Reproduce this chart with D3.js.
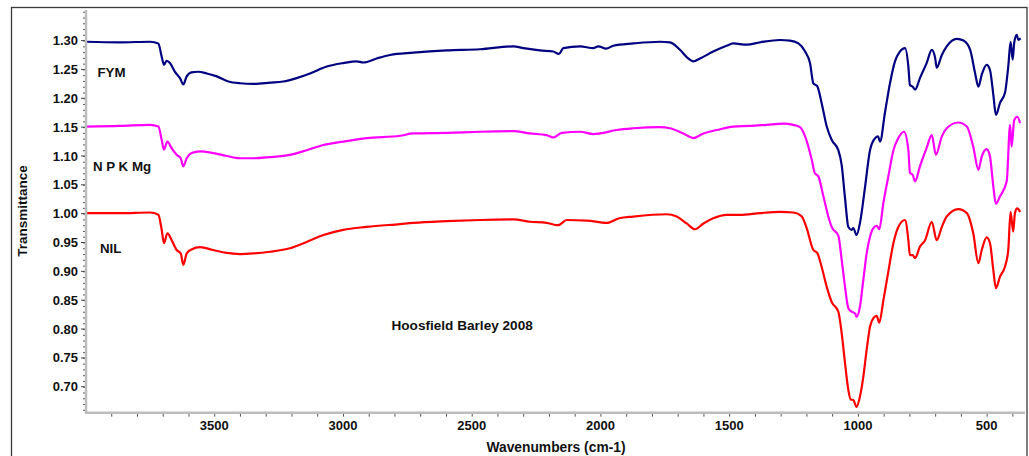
<!DOCTYPE html>
<html>
<head>
<meta charset="utf-8">
<script src="https://cdn.jsdelivr.net/npm/d3@7/dist/d3.min.js"></script>
<style>
  html, body { margin: 0; padding: 0; background: #fff; }
  svg text { font-family: "Liberation Sans", Arial, sans-serif; font-weight: bold; fill: #111; }
</style>
</head>
<body>
<svg id="chart" width="1029" height="456"></svg>
<script>
// FTIR spectra, Hoosfield Barley 2008: [wavenumber (cm-1), transmittance]
const fym = [
  [3998,1.298],[3866,1.297],[3749,1.298],[3717,1.295],[3704,1.272],[3695,1.258],[3685,1.265],
  [3672,1.261],[3653,1.246],[3633,1.235],[3620,1.224],[3607,1.238],[3588,1.245],[3562,1.246],
  [3529,1.243],[3490,1.238],[3445,1.229],[3400,1.226],[3348,1.225],[3283,1.227],[3232,1.229],
  [3180,1.235],[3128,1.243],[3063,1.255],[2999,1.261],[2947,1.264],[2921,1.262],[2869,1.269],
  [2817,1.275],[2727,1.279],[2597,1.283],[2468,1.285],[2338,1.290],[2299,1.287],[2235,1.283],
  [2183,1.281],[2161,1.277],[2144,1.287],[2079,1.290],[2028,1.287],[2008,1.290],[1978,1.286],
  [1950,1.291],[1872,1.295],[1769,1.298],[1730,1.297],[1691,1.284],[1659,1.269],[1639,1.264],
  [1613,1.269],[1562,1.281],[1510,1.291],[1484,1.295],[1432,1.293],[1380,1.297],[1303,1.301],
  [1264,1.300],[1231,1.295],[1205,1.281],[1186,1.261],[1173,1.226],[1158,1.221],[1141,1.192],
  [1121,1.151],[1102,1.128],[1076,1.110],[1063,1.084],[1050,1.027],[1037,0.977],[1024,0.972],
  [1018,0.975],[1005,0.963],[992,0.984],[972,1.047],[953,1.110],[933,1.131],[922,1.134],
  [914,1.125],[895,1.175],[875,1.227],[856,1.264],[837,1.281],[817,1.287],[804,1.255],
  [798,1.223],[787,1.220],[778,1.215],[759,1.235],[733,1.261],[713,1.284],[700,1.270],
  [694,1.253],[674,1.275],[655,1.290],[616,1.303],[590,1.300],[564,1.284],[545,1.244],
  [532,1.220],[519,1.241],[500,1.258],[487,1.249],[474,1.206],[464,1.171],[448,1.192],
  [429,1.209],[416,1.255],[407,1.298],[399,1.267],[393,1.296],[383,1.310],[377,1.301],[368,1.304]
];

const npkMg = [
  [3998,1.151],[3866,1.152],[3749,1.154],[3717,1.151],[3704,1.128],[3695,1.111],[3682,1.125],
  [3665,1.113],[3646,1.102],[3630,1.096],[3620,1.082],[3607,1.096],[3588,1.105],[3555,1.108],
  [3504,1.105],[3452,1.100],[3400,1.096],[3348,1.096],[3283,1.098],[3206,1.102],[3141,1.110],
  [3076,1.119],[2999,1.125],[2908,1.131],[2778,1.135],[2727,1.139],[2597,1.140],[2468,1.142],
  [2338,1.143],[2274,1.139],[2209,1.136],[2183,1.132],[2150,1.140],[2079,1.142],[2028,1.138],
  [2002,1.139],[1937,1.145],[1872,1.148],[1769,1.150],[1730,1.148],[1678,1.139],[1639,1.131],
  [1600,1.139],[1548,1.145],[1484,1.151],[1419,1.152],[1354,1.154],[1290,1.156],[1251,1.154],
  [1225,1.150],[1205,1.134],[1179,1.093],[1167,1.070],[1154,1.065],[1134,1.030],[1111,0.989],
  [1102,0.977],[1076,0.962],[1063,0.920],[1050,0.873],[1037,0.836],[1024,0.830],[1011,0.827],
  [1005,0.821],[992,0.839],[979,0.885],[966,0.931],[953,0.960],[940,0.975],[927,0.979],
  [917,0.973],[901,1.019],[882,1.064],[862,1.110],[843,1.131],[821,1.142],[804,1.110],
  [798,1.071],[787,1.067],[778,1.056],[759,1.082],[733,1.114],[713,1.136],[697,1.102],
  [674,1.134],[655,1.148],[610,1.158],[577,1.151],[552,1.116],[532,1.076],[519,1.099],
  [500,1.112],[487,1.099],[474,1.047],[464,1.017],[448,1.030],[422,1.056],[409,1.154],
  [403,1.116],[393,1.162],[381,1.168],[370,1.157]
];

const nil = [
  [3998,1.001],[3866,1.001],[3749,1.002],[3717,0.998],[3704,0.972],[3695,0.949],[3682,0.966],
  [3665,0.954],[3646,0.937],[3630,0.931],[3620,0.911],[3607,0.931],[3588,0.938],[3555,0.942],
  [3504,0.937],[3452,0.932],[3400,0.930],[3348,0.931],[3283,0.934],[3206,0.940],[3141,0.951],
  [3076,0.963],[2999,0.972],[2908,0.977],[2778,0.982],[2727,0.984],[2597,0.987],[2468,0.989],
  [2338,0.990],[2274,0.986],[2209,0.984],[2164,0.980],[2131,0.989],[2053,0.988],[1976,0.984],
  [1927,0.992],[1872,0.995],[1743,0.999],[1704,0.995],[1665,0.983],[1633,0.973],[1600,0.983],
  [1562,0.992],[1510,0.998],[1458,0.998],[1380,1.001],[1303,1.003],[1251,1.002],[1218,0.995],
  [1199,0.975],[1173,0.937],[1158,0.932],[1141,0.908],[1121,0.873],[1102,0.847],[1076,0.830],
  [1063,0.793],[1050,0.741],[1037,0.694],[1028,0.678],[1018,0.677],[1005,0.665],[992,0.683],
  [979,0.717],[966,0.764],[953,0.804],[940,0.819],[927,0.823],[917,0.811],[901,0.850],
  [882,0.899],[862,0.949],[843,0.977],[817,0.989],[804,0.954],[798,0.928],[787,0.928],
  [778,0.923],[759,0.943],[739,0.954],[713,0.986],[694,0.954],[674,0.977],[655,0.995],
  [610,1.008],[577,1.001],[552,0.966],[532,0.914],[519,0.937],[500,0.959],[487,0.949],
  [474,0.902],[464,0.871],[448,0.891],[429,0.908],[416,0.937],[407,1.003],[397,0.969],
  [390,1.001],[381,1.009],[370,1.003]
];

const seriesNames = ["FYM", "N P K Mg", "NIL"];
const seriesColors = ["#000080", "#ff00ff", "#ff0000"];
const xTicks = [3500, 3000, 2500, 2000, 1500, 1000, 500];
const yTicks = [0.70, 0.75, 0.80, 0.85, 0.90, 0.95, 1.00, 1.05, 1.10, 1.15, 1.20, 1.25, 1.30];
const chartTitle = "Hoosfield Barley 2008";
const xTitle = "Wavenumbers (cm-1)";
const yTitle = "Transmittance";

const svg = d3.select("#chart");
const plot = { left: 86, right: 1025, top: 10, bottom: 412.7 };

const x = d3.scaleLinear().domain([3998, 351]).range([plot.left, plot.right]);
const y = d3.scaleLinear().domain([0.655, 1.353]).range([plot.bottom, plot.top]);

// outer frame
svg.append("rect")
  .attr("x", 11.5).attr("y", 7.5).attr("width", 1015.5).attr("height", 460)
  .attr("fill", "none").attr("stroke", "#3a3a3a").attr("stroke-width", 1.3);

svg.append("clipPath").attr("id", "clip")
  .append("rect")
  .attr("x", plot.left).attr("y", plot.top)
  .attr("width", plot.right - plot.left).attr("height", plot.bottom - plot.top);

// spectra
const line = d3.line()
  .x(d => x(d[0]))
  .y(d => y(d[1]))
  .curve(d3.curveMonotoneX);

const g = svg.append("g").attr("clip-path", "url(#clip)");
[fym, npkMg, nil].forEach((s, i) => {
  g.append("path")
    .datum(s)
    .attr("fill", "none")
    .attr("stroke", seriesColors[i])
    .attr("stroke-width", 2.2)
    .attr("stroke-linejoin", "round")
    .attr("d", line);
});

// x axis
const xAxisG = svg.append("g").attr("transform", `translate(0,${plot.bottom})`);
xAxisG.call(d3.axisBottom(x).tickValues(d3.range(3900, 351, -100)).tickSize(3).tickFormat(""))
  .call(a => a.select(".domain").remove())
  .call(a => a.selectAll("line").attr("stroke", "#555").attr("transform", "translate(0,1)"));
xAxisG.append("line")
  .attr("x1", plot.left - 1).attr("x2", plot.right)
  .attr("stroke", "#bdbdbd").attr("stroke-width", 2.5);
xAxisG.selectAll(".xl").data(xTicks).enter().append("text")
  .attr("x", d => x(d)).attr("y", 17.8)
  .attr("text-anchor", "middle").attr("font-size", 13)
  .text(d => d);

// y axis
const yAxisG = svg.append("g").attr("transform", `translate(${plot.left},0)`);
yAxisG.call(d3.axisLeft(y).tickValues(d3.range(66, 136, 1).map(v => v / 100)).tickSize(3).tickFormat(""))
  .call(a => a.select(".domain").remove())
  .call(a => a.selectAll("line").attr("stroke", "#555"));
yAxisG.selectAll(".ymaj").data(yTicks).enter().append("line")
  .attr("x1", -5).attr("x2", 0)
  .attr("y1", d => y(d)).attr("y2", d => y(d))
  .attr("stroke", "#444").attr("stroke-width", 1);
yAxisG.append("line")
  .attr("y1", plot.top).attr("y2", plot.bottom + 1)
  .attr("stroke", "#bdbdbd").attr("stroke-width", 2.5);
yAxisG.selectAll(".yl").data(yTicks).enter().append("text")
  .attr("x", -8).attr("y", d => y(d) + 4.6)
  .attr("text-anchor", "end").attr("font-size", 13)
  .text(d => d.toFixed(2));

// axis titles
svg.append("text")
  .attr("x", 556).attr("y", 451.5)
  .attr("text-anchor", "middle").attr("font-size", 13.8)
  .text(xTitle);
svg.append("text")
  .attr("transform", "translate(27,211) rotate(-90)")
  .attr("text-anchor", "middle").attr("font-size", 13.5)
  .text(yTitle);

// series names and title
const labelPos = [[97.5, 76.5], [93, 170.5], [100, 252.5]];
seriesNames.forEach((n, i) => {
  svg.append("text")
    .attr("x", labelPos[i][0]).attr("y", labelPos[i][1])
    .attr("font-size", 13.3)
    .text(n);
});
svg.append("text")
  .attr("x", 391.5).attr("y", 330)
  .attr("font-size", 13.6)
  .text(chartTitle);
</script>
</body>
</html>
